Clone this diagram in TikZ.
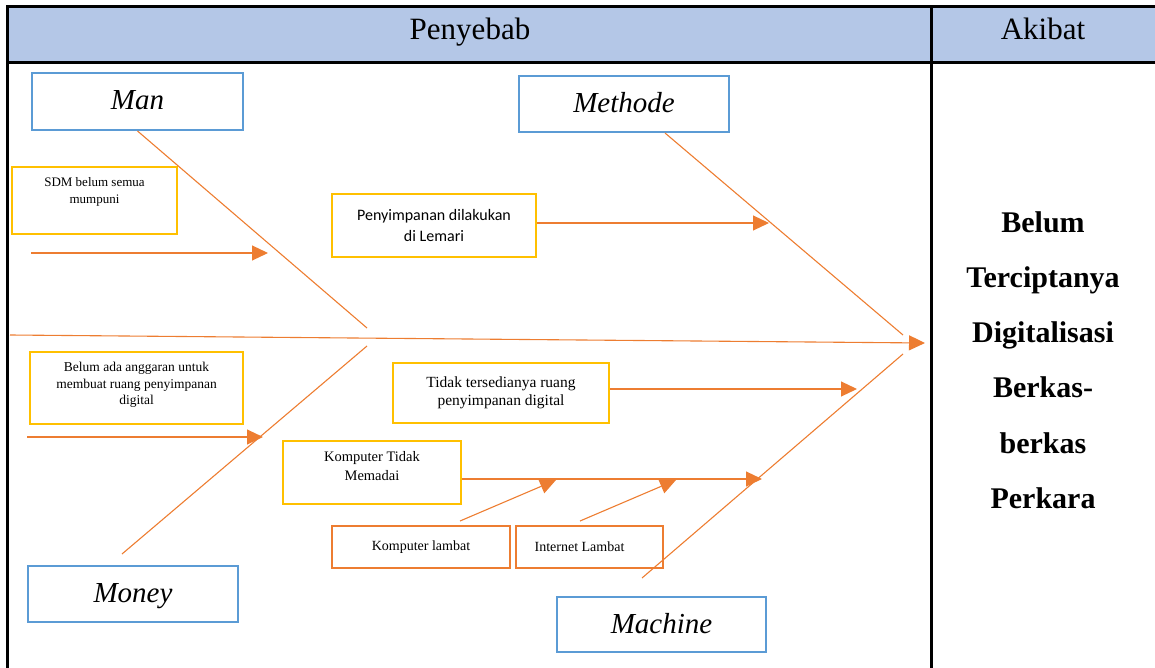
\documentclass[tikz,border=0pt]{standalone}
\usepackage{fontspec}
\setmainfont{Liberation Serif}
\newfontfamily\calibri{Carlito}
\usetikzlibrary{arrows.meta}
\definecolor{hdrblue}{HTML}{B4C7E7}
\definecolor{catblue}{HTML}{5B9BD5}
\definecolor{causeyellow}{HTML}{FFC000}
\definecolor{suborange}{HTML}{ED7D31}
\begin{document}
\begin{tikzpicture}[x=1pt, y=-1pt,
  catbox/.style={draw=catblue, line width=2pt, text height=17pt, text depth=0pt, font=\fontsize{29}{34}\selectfont\itshape},
  causebox/.style={draw=causeyellow, line width=2.3pt},
  subbox/.style={draw=suborange, line width=2.3pt, font=\fontsize{14}{17}\selectfont},
  boxtext/.style={anchor=north, yshift=-8pt, align=center},
  bone/.style={draw=suborange, line width=1.1pt},
  causearrow/.style={bone, -{Triangle[length=16pt, width=15pt]}},
  head/.style={font=\fontsize{31}{36}\selectfont, anchor=base}
]
  \useasboundingbox (0,0) rectangle (1155,668);

  % table
  \fill[hdrblue] (7,7) rectangle (1160,63);
  \draw[line width=3pt] (7,675) -- (7,7) -- (1160,7);
  \draw[line width=3pt] (7,63) -- (1160,63);
  \draw[line width=3pt] (931,7) -- (931,675);
  \node[head] (penyebab) at (470,40) {Penyebab};
  \node[head] (akibat) at (1043,40) {Akibat};

  % categories
  \node[catbox, minimum width=211pt, minimum height=57pt] (man) at (137.5,101.5) {Man};
  \node[catbox, minimum width=210pt, minimum height=56pt] (methode) at (624,104) {Methode};
  \node[catbox, minimum width=210pt, minimum height=56pt] (money) at (133,594) {Money};
  \node[catbox, minimum width=209pt, minimum height=55pt] (machine) at (661.5,624.5) {Machine};

  % causes
  \node[causebox, minimum width=165pt, minimum height=67pt,
    label={[name=sdmtext, boxtext, font=\fontsize{13}{17}\selectfont]north:SDM belum semua\\mumpuni}] (sdm) at (94.5,200.5) {};
  \node[causebox, minimum width=204pt, minimum height=63pt, align=center,
    font=\calibri\fontsize{16}{21}\selectfont] (simpan) at (434,225.5) {Penyimpanan dilakukan\\di Lemari};
  \node[causebox, minimum width=213pt, minimum height=72pt,
    label={[name=anggarantext, boxtext, font=\fontsize{13.5}{16.5}\selectfont]north:Belum ada anggaran untuk\\membuat ruang penyimpanan\\digital}] (anggaran) at (136.5,388) {};
  \node[causebox, minimum width=216pt, minimum height=60pt, align=center,
    font=\fontsize{15.5}{18}\selectfont] (ruang) at (501,393) {Tidak tersedianya ruang\\penyimpanan digital};
  \node[causebox, minimum width=178pt, minimum height=63pt,
    label={[name=memadaitext, boxtext, font=\fontsize{14.5}{19}\selectfont]north:Komputer Tidak\\Memadai}] (memadai) at (372,472.5) {};
  \node[subbox, minimum width=178pt, minimum height=42pt] (lambat) at (421,547) {Komputer lambat};
  \node[subbox, minimum width=147pt, minimum height=42pt,
    label={[name=nettext, anchor=center, xshift=-10pt, font=\fontsize{14}{17}\selectfont]center:Internet Lambat}] (internet) at (589.5,547) {};

  % effect
  \node[align=center, font=\bfseries\fontsize{30}{55.3}\selectfont] (effect) at (1043,360) {Belum\\Terciptanya\\Digitalisasi\\Berkas-\\berkas\\Perkara};

  % bones
  \coordinate (tail) at (10,335);
  \coordinate (head) at (925,343);
  \coordinate (manend) at (367,328);
  \coordinate (methodeend) at (903,335);
  \coordinate (moneystart) at (122,554);
  \coordinate (moneyend) at (367,346);
  \coordinate (machinestart) at (642,578);
  \coordinate (machineend) at (903,354);
  \draw[causearrow] (tail) -- (head);
  \draw[bone] (man.south) -- (manend);
  \draw[bone] ([xshift=41pt]methode.south) -- (methodeend);
  \draw[bone] (moneystart) -- (moneyend);
  \draw[bone] (machinestart) -- (machineend);

  % cause arrows
  \coordinate (sdmstart) at (31,253);
  \coordinate (sdmtip) at (268,253);
  \coordinate (anggaranstart) at (27,437);
  \coordinate (anggarantip) at (263,437);
  \coordinate (simpantip) at (769,223);
  \coordinate (ruangtip) at (857,389);
  \coordinate (memadaitip) at (762,479);
  \coordinate (lambatstart) at (460,521);
  \coordinate (lambattip) at (556,480);
  \coordinate (netstart) at (580,521);
  \coordinate (nettip) at (676,480);
  \draw[causearrow] (sdmstart) -- (sdmtip);
  \draw[causearrow] (anggaranstart) -- (anggarantip);
  \draw[causearrow] (simpan.east |- simpantip) -- (simpantip);
  \draw[causearrow] (ruang.east |- ruangtip) -- (ruangtip);
  \draw[causearrow] (memadai.east |- memadaitip) -- (memadaitip);
  \draw[causearrow] (lambatstart) -- (lambattip);
  \draw[causearrow] (netstart) -- (nettip);
\end{tikzpicture}
\end{document}
